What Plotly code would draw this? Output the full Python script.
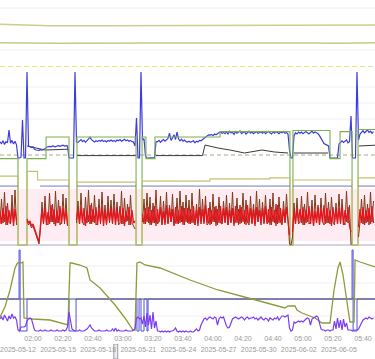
import pandas as pd
import plotly.graph_objects as go

# ---------------- data ----------------
SESSION_START = "2025-05-19 01:38"
SESSION_MINUTES = 250
time_ticks = ["01:40", "02:00", "02:20", "02:40", "03:00", "03:20", "03:40", "04:00",
              "04:20", "04:40", "05:00", "05:20", "05:40"]

nav_start = "2025-05-10 15:40"
nav_end = "2025-06-07 16:50"
nav_ticks = ["2025-05-12", "2025-05-15", "2025-05-18", "2025-05-21", "2025-05-24",
             "2025-05-27", "2025-05-30", "2025-06-02", "2025-06-05"]
selected_night = ["2025-05-19 04:00", "2025-05-19 11:00"]

# panel 1 (minutes from start, value)
p1_hi_t = [0, 33, 67, 127, 167, 250]
p1_hi_v = [96.2, 95.8, 95.8, 95.9, 96.0, 96.0]
p1_lo_t = [0, 40, 100, 150, 210, 225, 240, 250]
p1_lo_v = [90.9, 90.7, 90.8, 90.9, 90.8, 90.7, 90.8, 90.9]
p1_threshold = 84

# panel 2 pressure, one value per minute
pressure = [
    8.0, 7.6, 8.3, 7.4, 8.1, 7.8, 11.0, 7.7, 8.4, 7.5, 8.2, 7.3, 4.0, 4.0, 4.2, 13.5, 4.0, 4.0, 25.5, 7.0, 6.8, 6.6, 6.8, 6.2, 6.0,
    6.0, 5.9, 6.1, 6.0, 6.2, 6.3, 6.7, 6.8, 6.9, 6.8, 7.0, 6.9, 6.8, 7.0, 7.1, 6.9, 7.0, 7.2, 7.0, 7.1, 7.0, 4.0, 4.0, 4.0, 4.0,
    25.5, 8.0, 7.9, 8.2, 8.6, 8.1, 8.4, 7.9, 8.3, 8.7, 9.2, 8.6, 8.4, 8.0, 8.3, 8.1, 8.4, 8.2, 8.5, 8.1, 8.3, 8.0, 8.4, 8.2, 8.5,
    8.2, 8.4, 8.1, 8.5, 8.3, 8.6, 8.2, 8.4, 8.7, 8.3, 8.5, 8.2, 8.4, 8.1, 8.0, 7.0, 14.0, 4.0, 4.0, 25.5, 8.5, 8.8, 4.5, 4.0, 4.0,
    4.0, 4.0, 4.0, 4.1, 8.0, 8.1, 8.4, 7.9, 8.3, 8.6, 8.2, 8.5, 8.9, 10.2, 8.4, 9.0, 9.8, 8.6, 10.5, 8.8, 8.3, 8.7, 8.2, 8.5, 8.1,
    8.0, 8.2, 7.9, 8.1, 8.3, 7.8, 8.2, 8.0, 8.4, 8.3, 8.6, 8.9, 9.3, 9.6, 9.8, 9.7, 9.9, 9.6, 10.0, 9.8, 10.1, 10.3, 10.6, 10.2, 10.4,
    10.1, 10.5, 10.0, 10.7, 10.3, 10.4, 9.9, 10.6, 10.2, 10.5, 10.8, 10.1, 10.4, 10.6, 10.0, 10.3, 10.7, 10.2, 10.5, 10.1, 10.4, 10.6, 10.2, 10.3, 10.5,
    10.2, 10.6, 10.1, 10.4, 10.7, 10.3, 10.0, 10.5, 10.2, 10.6, 10.4, 10.1, 10.5, 10.3, 10.6, 10.2, 10.4, 10.0, 6.0, 4.0, 4.0, 9.5, 10.3, 10.0, 10.5,
    10.2, 10.5, 10.1, 10.4, 10.6, 10.3, 10.0, 10.4, 10.7, 10.2, 10.5, 10.3, 10.1, 9.6, 8.8, 8.0, 7.6, 7.4, 7.2, 7.0, 4.0, 4.0, 4.0, 4.0, 4.0,
    4.0, 7.5, 8.0, 8.3, 7.9, 8.2, 8.5, 7.8, 8.1, 14.5, 4.0, 4.0, 4.0, 25.5, 8.5, 10.0, 10.5, 10.8, 10.3, 10.6, 11.0, 10.4, 10.7, 10.2, 10.6,
]
epap_t = [18, 23, 30, 45.9, 48, 51.3, 90.6, 92, 104, 135, 136.7, 145.3, 153.3, 163, 174.7, 183, 192, 194, 196, 218.7, 225, 239.3, 250]
epap_v = [7.0, 6.6, 6.0, 6.2, None, 4.6, 4.6, None, 4.6, 4.6, 7.25, 6.5, 6.0, 5.25, 6.0, 5.5, 5.25, None, 5.25, 5.25, None, 7.0, 7.2]
pressure_ref = 4.75

mode_t = [0, 12, 18, 30.7, 46, 51.3, 90.7, 94.7, 97.3, 103.3, 146.7, 193.3, 195.3, 220, 226.7, 234.7, 238.7, 250]
mode_v = [8, 0, 8, 10, 0, 10, 0, 10, 8, 10, 10.5, 0, 10.6, 8, 10.5, 0, 10.7, 10.7]

# panel 3
p3_level_t = [0, 12, 18, 25, 46, 51.3, 90.7, 94.7, 140, 180, 193.3, 195.3, 234.7, 238.7, 250]
p3_level_v = [31.8, 0, 34, 30, 0, 29, 0, 29.5, 30.5, 31, 0, 30, 0, 31, 31]
p3_ref_t = [0, 12, 12.5, 26.7, 46, 48, 51.3, 90.7, 92, 94.7, 193.3, 194, 195.3, 234.7, 236, 238.7, 250]
p3_ref_v = [27.2, 27.2, None, 27.2, 27.2, None, 27.2, 27.2, None, 27.2, 27.2, None, 27.2, 27.2, None, 27.2, 27.2]

N = None
flow = [
    6, -7, 9, -5, 11, -8, 7, -6, 10, -9, 8, -4, N, N, N, N, N, N, -2, -6, -4, -9, -7, -12, -15,
    -22, -25, -8, 7, -6, 10, -8, 5, -7, 12, -5, 8, -9, 6, -6, 11, -7, 9, -4, 7, -8, N, N, N, N,
    N, -3, 8, -7, 10, -6, 9, -9, 6, -5, 12, -7, 8, -6, 10, -8, 7, -5, 11, -9, 6, -7, 9, -4, 8,
    -6, 10, -8, 7, -5, 11, -7, 9, -9, 6, -4, 10, -8, 7, -6, -4, N, N, N, N, 3, -7, 9, -5, 10,
    -8, 7, -6, 11, -9, 8, -5, 10, -7, 6, -8, 12, -6, 9, -5, 8, -9, 10, -7, 7, -6, 11, -8, 9, -5,
    9, -7, 8, -6, 11, -8, 7, -9, 10, -5, 8, -7, 12, -6, 9, -8, 7, -5, 10, -9, 8, -6, 11, -7, 9,
    -6, 10, -8, 7, -5, 9, -9, 11, -6, 8, -7, 10, -5, 7, -8, 12, -6, 9, -7, 8, -9, 10, -5, 7, -6,
    9, -7, 11, -6, 8, -8, 10, -5, 7, -9, 12, -6, 9, -7, 8, -5, 10, -8, -18, N, -15, 6, -7, 9, -5,
    8, -6, 10, -8, 7, -5, 11, -7, 9, -9, 6, -6, 10, -8, 8, -5, 12, -7, 9, -6, 7, -9, 10, -5, 8,
    -7, 9, -6, 11, -8, 7, -5, 10, -9, -15, N, N, N, N, -10, 8, -6, 10, -8, 7, -5, 9, -7, 11, -6,
]
flow_peak = [
    -7, 18, -6, 25, -8, 14, -5, -7, 22, -6, 27, -8, N, N, N, N, N, N, -4, -8, -6, -11, -9, -14, -17,
    -24, -27, -12, 15, -7, 21, -6, -8, 24, -5, 13, -7, 26, -6, 17, -8, -5, 23, -7, 19, -9, N, N, N, N,
    N, -6, 16, -7, 24, -5, -8, 20, -6, 27, -7, 14, -5, 22, -8, -6, 18, -7, 25, -5, 12, -8, 21, -6, 17,
    -7, 23, -5, 15, -8, -6, 26, -7, 19, -5, 13, -8, 22, -6, -9, -12, N, N, N, N, -5, 18, -7, 24, -6,
    20, -8, 14, -6, 27, -7, -5, 21, -8, 16, -6, 25, -7, 12, -5, 23, -8, -6, 19, -7, 26, -5, 15, -8, 22,
    -6, 17, -7, 24, -5, -8, 13, -6, 28, -7, 18, -5, 21, -8, -6, 15, -7, 23, -5, 11, -8, 20, -6, -7, 16,
    -5, 22, -8, 14, -6, 25, -7, -5, 19, -8, 12, -6, 24, -7, 17, -5, -8, 21, -6, 13, -7, 26, -5, 18, -8,
    15, -6, 22, -7, -5, 18, -8, 24, -6, 13, -7, 20, -5, -8, 16, -6, 23, -7, -27, -28, -20, 14, -6, 19, -7,
    -5, 21, -8, 13, -6, 25, -7, -5, 17, -8, 22, -6, 12, -7, 19, -5, -8, 24, -6, 15, -7, 20, -5, -8, 14,
    -6, 23, -7, 18, -5, -8, 26, -6, 12, -28, N, N, N, N, -20, -5, 18, -7, 22, -6, 13, -8, 25, -5, 16,
]

# panel 4
p4_curve_t = [0, 3.3, 6.7, 8.7, 10, 11.3, 12.7, 14, 15.3, 16, 22, 33.3, 44.7, 45.3, 46.7, 48, 53.3, 58, 60,
              66.7, 76.7, 83.3, 88.7, 90, 91.3, 93.3, 96.7, 106.7, 126.7, 145.3, 168, 190, 192, 196.7,
              198, 201.3, 210, 214.7, 220, 222.7, 225.3, 226.7, 228.7, 231.3, 233.3, 236, 236.7, 240, 250]
p4_curve_v = [16, 26, 43, 58, 65, 69, 71, 70, 71, 15, 14, 13, 8, 8, 70, 70, 68, 65, 53,
              45, 28, 15, 3, 3, 70, 71, 68, 65, 53, 43, 34, 25, 27, 27,
              23, 20, 15, 10, 10, 43, 65, 71, 58, 33, 11, 11, 73, 71, 66]
p4_base_t = [0, 250]
p4_base_v = [34, 34]
p4_blue_t = [0, 12.7, 12.7, 13.4, 13.4, 18, 18, 46, 46, 50.7, 50.7, 91.3, 91.3, 92.7, 92.7, 94, 94, 96, 96,
             98, 98, 98.7, 98.7, 234.7, 234.7, 235.4, 235.4, 238, 238, 250]
p4_blue_v = [34, 34, 83, 83, 2, 2, 34, 34, 2, 2, 34, 34, 2, 2, 34, 34, 2, 2, 34,
             34, 2, 2, 34, 34, 83, 83, 2, 2, 34, 34]
leak = [
    14, 16, 13, 18, 15, 12, 17, 14, 19, 15, 16, 13, 3, 2, 6, 6, 6, 7, 12, 14, 15, 14, 8, 3, 2,
    2, 2, 3, 2, 2, 3, 2, 2, 2, 3, 2, 2, 2, 3, 2, 2, 2, 3, 2, 3, 6, 21, 14, 4, 3,
    2, 2, 2, 3, 2, 2, 2, 3, 4, 6, 8, 5, 3, 2, 2, 2, 3, 2, 2, 2, 2, 3, 2, 2, 2,
    4, 2, 5, 2, 3, 2, 2, 2, 2, 3, 2, 2, 2, 2, 3, 4, 15, 16, 14, 15, 9, 17, 6, 20, 8,
    18, 4, 21, 5, 12, 2, 2, 1, 2, 1, 2, 1, 2, 1, 2, 2, 3, 5, 2, 1, 2, 1, 2, 1, 2,
    1, 1, 2, 1, 1, 3, 4, 2, 3, 8, 12, 14, 15, 13, 15, 16, 15, 14, 16, 15, 8, 14, 16, 15, 16,
    11, 7, 5, 6, 10, 14, 15, 16, 15, 14, 15, 16, 15, 13, 15, 16, 14, 15, 15, 16, 14, 15, 13, 15, 16,
    14, 13, 15, 14, 12, 15, 14, 13, 15, 14, 16, 13, 15, 17, 17, 16, 17, 18, 5, 2, 3, 11, 10, 11, 12,
    11, 12, 11, 13, 14, 15, 14, 8, 14, 15, 16, 17, 16, 9, 4, 3, 3, 2, 3, 3, 2, 3, 3, 12, 4,
    15, 5, 13, 3, 14, 6, 10, 3, 3, 3, 2, 3, 3, 3, 4, 7, 10, 13, 14, 15, 14, 16, 15, 14, 15,
]

# ---------------- layout helpers ----------------
FIG_W, FIG_H = 375, 359
AREA_TOP, AREA_BOTTOM = 0, 333          # px of the stacked chart area
NAV_TOP = 344                            # px of the navigator strip top

start = pd.Timestamp(SESSION_START)


def ts(mins):
    return [start + pd.Timedelta(minutes=m) for m in mins]


minute_grid = ts(range(SESSION_MINUTES))


def axis_range(v1, px1, v2, px2):
    s = (px1 - px2) / (v2 - v1)
    return [v1 - (AREA_BOTTOM - px1) / s, v1 + (px1 - AREA_TOP) / s]


def frac(px):
    return 1 - px / FIG_H


fig = go.Figure()


def line(x, y, axis, color, width=1.0, dash=None, shape="linear"):
    fig.add_trace(go.Scatter(x=x, y=y, yaxis=axis, xaxis="x", mode="lines",
                             line=dict(color=color, width=width, dash=dash, shape=shape),
                             connectgaps=False, hoverinfo="skip"))


# panel 1
line(ts(p1_hi_t), p1_hi_v, "y", "#cdcd8e", 1.5)
line(ts(p1_lo_t), p1_lo_v, "y", "#c6c98a", 1.5)
line(ts([0, SESSION_MINUTES]), [p1_threshold, p1_threshold], "y", "#eedf78", 1.2, "5px,3px")

# panel 2
line(ts([0, SESSION_MINUTES]), [pressure_ref, pressure_ref], "y2", "#a8a888", 1.0, "4px,3px")
line(ts(epap_t), epap_v, "y2", "#3a3a3a", 1.0)
line(ts(mode_t), mode_v, "y3", "#7cb04e", 1.1, shape="hv")
line(minute_grid, pressure, "y2", "#3c3cdc", 1.2)

# panel 3
line(ts(p3_level_t), p3_level_v, "y4", "#c2c272", 1.1, shape="hv")
line(ts(p3_ref_t), p3_ref_v, "y4", "#7878c8", 1.0)
line(minute_grid, flow_peak, "y5", "#7e3a1c", 1.0)
line(minute_grid, flow, "y5", "#e8141c", 1.3)

# panel 4
line(ts(p4_blue_t), p4_blue_v, "y6", "#5050e0", 1.0)
line(ts(p4_base_t), p4_base_v, "y6", "#55586a", 1.0)
line(ts(p4_curve_t), p4_curve_v, "y6", "#8e9a3c", 1.3)
line(minute_grid, leak, "y6", "#7a3cf0", 1.2)

# navigator handle
fig.add_trace(go.Scatter(
    x=[selected_night[0], selected_night[0], selected_night[1], selected_night[1], selected_night[0]],
    y=[0, 1, 1, 0, 0], xaxis="x2", yaxis="y7", mode="lines", fill="toself",
    fillcolor="rgba(190,190,200,0.25)", line=dict(color="#9a9aa6", width=1), hoverinfo="skip"))

hidden = dict(visible=False, fixedrange=True)
main_dom = [frac(AREA_BOTTOM), frac(AREA_TOP)]

shapes = []
# pink band behind flow
shapes.append(dict(type="rect", xref="paper", yref="paper", x0=0, x1=1,
                   y0=frac(241), y1=frac(189), fillcolor="rgba(255,80,140,0.11)",
                   line=dict(width=0), layer="below"))
# faint grid lines
for gp in [8, 50, 87, 103, 119, 266, 283, 316]:
    shapes.append(dict(type="line", xref="paper", yref="paper", x0=0, x1=1,
                       y0=frac(gp), y1=frac(gp), line=dict(color="#f1eef4", width=1),
                       layer="below"))
# panel 3 baseline
shapes.append(dict(type="line", xref="paper", yref="paper", x0=0, x1=1,
                   y0=frac(245), y1=frac(245), line=dict(color="#a8a8c0", width=1),
                   layer="below"))

tick_font = dict(family="Liberation Sans, Arial, sans-serif", size=7, color="#9a9a9a")
end = start + pd.Timedelta(minutes=SESSION_MINUTES)
day = start.strftime("%Y-%m-%d")

fig.update_layout(
    width=FIG_W, height=FIG_H, margin=dict(l=0, r=0, t=0, b=0),
    paper_bgcolor="white", plot_bgcolor="white", showlegend=False,
    shapes=shapes,
    xaxis=dict(domain=[0, 1], anchor="y", range=[start, end], showgrid=False, zeroline=False,
               tickmode="array", tickvals=[f"{day} {t}" for t in time_ticks], ticktext=time_ticks,
               tickfont=tick_font, ticks="", showline=False, fixedrange=True),
    yaxis=dict(domain=main_dom, range=axis_range(96, 25, 84, 66.5), **hidden),
    yaxis2=dict(overlaying="y", range=axis_range(4, 158, 20, 94), **hidden),
    yaxis3=dict(overlaying="y", range=axis_range(0, 245, 10, 137), **hidden),
    yaxis4=dict(overlaying="y", range=axis_range(0, 245, 30, 180), **hidden),
    yaxis5=dict(overlaying="y", range=axis_range(0, 217, 20, 197), **hidden),
    yaxis6=dict(overlaying="y", range=axis_range(0, 333, 83, 250), **hidden),
    xaxis2=dict(domain=[0, 1], anchor="y7", type="date", range=[nav_start, nav_end],
                side="top", ticklabelposition="inside", tickmode="array", tickvals=nav_ticks,
                ticktext=nav_ticks, tickfont=tick_font, ticks="", showgrid=False,
                zeroline=False, showline=False, fixedrange=True),
    yaxis7=dict(domain=[0, frac(NAV_TOP)], anchor="x2", range=[0, 1], **hidden),
)

fig.write_html("out.html")
